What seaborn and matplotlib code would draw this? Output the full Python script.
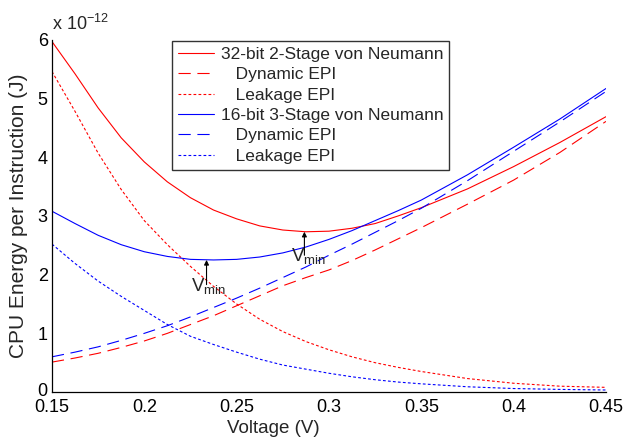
import numpy as np
import pandas as pd
import matplotlib
matplotlib.use("Agg")
import matplotlib.pyplot as plt
import matplotlib.transforms as mtransforms
import seaborn as sns

# supply voltage (V)
voltage = [0.15, 0.1625, 0.175, 0.1875, 0.2, 0.2125, 0.225, 0.2375, 0.25, 0.2625, 0.275,
           0.2875, 0.3, 0.3125, 0.325, 0.3375, 0.35, 0.375, 0.4, 0.425, 0.45]

# energy per instruction, units of 1e-12 J
red_total = [5.97, 5.42, 4.84, 4.33, 3.92, 3.58, 3.31, 3.10, 2.95, 2.83, 2.76,
             2.73, 2.74, 2.79, 2.87, 3.00, 3.14, 3.46, 3.84, 4.25, 4.69]
red_dyn = [0.51, 0.58, 0.66, 0.76, 0.87, 1.00, 1.15, 1.30, 1.47, 1.64, 1.81,
           1.95, 2.08, 2.24, 2.42, 2.61, 2.80, 3.20, 3.61, 4.08, 4.61]
red_leak = [5.46, 4.78, 4.07, 3.45, 2.92, 2.51, 2.14, 1.80, 1.50, 1.24, 1.03,
            0.86, 0.72, 0.60, 0.50, 0.42, 0.35, 0.23, 0.15, 0.10, 0.08]

blue_total = [3.08, 2.87, 2.67, 2.51, 2.39, 2.31, 2.26, 2.25, 2.26, 2.30, 2.37,
              2.47, 2.60, 2.75, 2.92, 3.09, 3.27, 3.70, 4.17, 4.65, 5.17]
blue_dyn = [0.60, 0.68, 0.77, 0.88, 1.00, 1.13, 1.28, 1.44, 1.60, 1.77, 1.95,
            2.13, 2.33, 2.52, 2.72, 2.92, 3.13, 3.60, 4.10, 4.60, 5.12]
blue_leak = [2.52, 2.19, 1.89, 1.63, 1.39, 1.15, 0.95, 0.81, 0.68, 0.56, 0.46,
             0.39, 0.32, 0.26, 0.21, 0.17, 0.14, 0.09, 0.06, 0.045, 0.035]

labels = ["32-bit 2-Stage von Neumann", "   Dynamic EPI", "   Leakage EPI",
          "16-bit 3-Stage von Neumann", "   Dynamic EPI", "   Leakage EPI"]

# V_min points (voltage, energy) read from the arrows
vmin_red = (0.2867, 2.73)
vmin_blue = (0.2337, 2.25)

sns.set_style("white")
plt.rcParams["font.family"] = ["Liberation Sans", "DejaVu Sans"]

fig = plt.figure(figsize=(6.26, 4.42), dpi=100)
ax = fig.add_axes([0.083, 0.113, 0.885, 0.797])

dash = (0, (11, 6))
dot = (0, (2.5, 2))
series = [
    (red_total, "#ff0000", "-"),
    (red_dyn, "#ff0000", dash),
    (red_leak, "#ff0000", dot),
    (blue_total, "#0000ff", "-"),
    (blue_dyn, "#0000ff", dash),
    (blue_leak, "#0000ff", dot),
]
for (vals, col, ls), lab in zip(series, labels):
    sns.lineplot(x=voltage, y=vals, color=col, linestyle=ls, linewidth=0.8,
                 label=lab, ax=ax)

ax.set_xlim(0.15, 0.45)
ax.set_ylim(0, 6)
ax.set_xticks([0.15, 0.2, 0.25, 0.3, 0.35, 0.4, 0.45])
ax.set_xticklabels(["0.15", "0.2", "0.25", "0.3", "0.35", "0.4", "0.45"])
ax.set_yticks(range(7))
ax.tick_params(direction="in", length=6, width=0.8, labelsize=13, colors="black")
ax.tick_params(axis="x", pad=5)
ax.tick_params(axis="y", pad=3)
for s in ["top", "right"]:
    ax.spines[s].set_visible(False)
for s in ["left", "bottom"]:
    ax.spines[s].set_color("black")
    ax.spines[s].set_linewidth(0.9)

# lift the "0" a little so it clears "0.15", as in the original
fig.canvas.draw()
zero = ax.get_yticklabels()[0]
zero.set_transform(zero.get_transform() + mtransforms.ScaledTranslation(0, 3 / 100, fig.dpi_scale_trans))

ax.set_xlabel("Voltage (V)", fontsize=13.5)
ax.xaxis.set_label_coords(0.399, -0.078)
ax.set_ylabel("CPU Energy per Instruction (J)", fontsize=15, labelpad=7)
ax.text(0.0, 1.015, r"x 10$^{\mathregular{-12}}$", transform=ax.transAxes,
        fontsize=13, ha="left", va="bottom")

# V_min arrows
for (vx, vy), ty, tx, txt_y in [(vmin_blue, 1.83, 0.2255, 1.96), (vmin_red, 2.33, 0.2795, 2.47)]:
    ax.annotate("", xy=(vx, vy), xytext=(vx, ty),
                arrowprops=dict(arrowstyle="-|>", color="black", lw=0.8,
                                mutation_scale=7, shrinkA=0, shrinkB=0))
    ax.text(tx, txt_y, r"V$_{\mathregular{min}}$", fontsize=13.5, ha="left", va="top")

leg = ax.legend(loc="upper left", bbox_to_anchor=(0.215, 1.0), fontsize=12.5,
                frameon=True, fancybox=False, borderpad=0.35, labelspacing=0.3,
                handlelength=2.1, handletextpad=0.35, borderaxespad=0.05)
leg.get_frame().set_edgecolor("black")
leg.get_frame().set_linewidth(1.0)

fig.savefig("out.png", dpi=100)
